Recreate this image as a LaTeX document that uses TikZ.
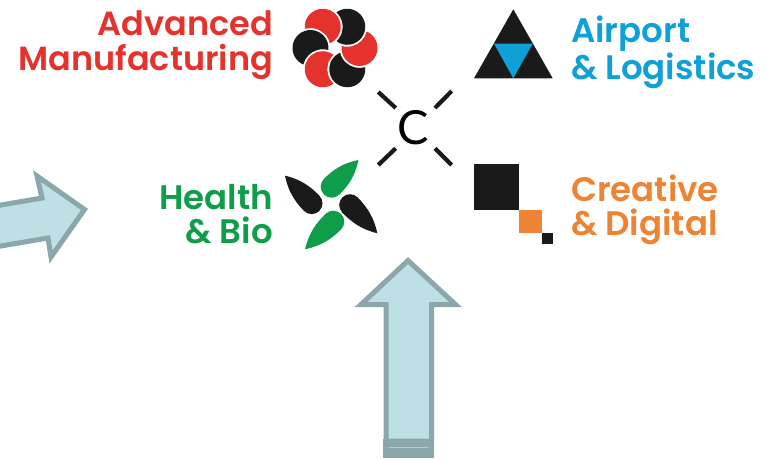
\documentclass[tikz,border=0pt]{standalone}
\usepackage{fontspec}
\setmainfont{Lato}
\newfontfamily\labelfont{Poppins}[UprightFont=* SemiBold]
\definecolor{cred}{HTML}{E5322D}
\definecolor{cblack}{HTML}{1A1A1A}
\definecolor{cgreen}{HTML}{0F9D4A}
\definecolor{corange}{HTML}{EE8433}
\definecolor{cblue}{HTML}{10A0D8}
\definecolor{afill}{HTML}{BCE0E4}
\definecolor{aline}{HTML}{8AA8AB}
\tikzset{
  label text/.style={font=\fontsize{34}{34.5}\selectfont\labelfont,inner sep=0pt,outer sep=0pt},
  bigarrow/.style={fill=afill,draw=aline,line width=5pt,miter limit=10,line join=miter},
  spoke/.style={draw=cblack,line width=4.2pt},
}
\newcommand{\petal}[2]{%
  \begin{scope}[shift={(335,48)},x=1pt,y=1pt,rotate=#1]
    \fill[#2] (6.62,2.04) arc[start angle=173.5,end angle=426.5,radius=18pt]
      arc[start angle=346.3,end angle=253.6,radius=20pt] -- cycle;
  \end{scope}}
\newcommand{\leafshape}[6]{%
  \begin{scope}[shift={(#1,#2)},x=1pt,y=1pt,rotate=#3]
    \fill[#6] (#4,0) .. controls ({.65*#4},{.8*#5}) and ({.35*#4},#5) .. (0,#5)
      arc[start angle=90,end angle=270,radius=#5 pt]
      .. controls ({.35*#4},-#5) and ({.65*#4},{-.8*#5}) .. (#4,0) -- cycle;
  \end{scope}}
\begin{document}
\begin{tikzpicture}[x=1pt,y=-1pt]
\useasboundingbox (0,0) rectangle (769,459);
\fill[white] (0,0) rectangle (769,459);
% arrows
\draw[bigarrow] (-5,206) -- (42,198) -- (37,176) -- (84.5,209.5) -- (51,257) -- (48,238) -- (-5,247);
\draw[bigarrow] (408,260.5) -- (455.5,304.5) -- (431.5,304.5) -- (431.5,441) -- (386,441) -- (386,304.5) -- (361,304.5) -- cycle;
\fill[aline] (383,439) rectangle (434,458);
\draw[afill!70!aline,line width=.6pt] (389,447) -- (428,447);
% flower
\petal{0}{cred}\petal{60}{cblack}\petal{120}{cred}\petal{180}{cblack}\petal{240}{cred}\petal{300}{cblack}
% triangle
\fill[cblack] (513.3,9.3) -- (552.7,78.3) -- (474,78.3) -- cycle;
\fill[cblue] (494,43.7) -- (532.7,43.7) -- (513.3,78.3) -- cycle;
% centre logo
\node[inner sep=0pt,font=\fontsize{47}{47}\selectfont] (centre) at (413,128) {C};
\coordinate (s1a) at (378.3,92); \coordinate (s1b) at (395.7,108);
\coordinate (s2a) at (451.7,91); \coordinate (s2b) at (435,108);
\coordinate (s3a) at (378.3,165); \coordinate (s3b) at (395.7,148.3);
\coordinate (s4a) at (451.7,165); \coordinate (s4b) at (435,148.3);
\draw[spoke] (s1a) -- (s1b);
\draw[spoke] (s2a) -- (s2b);
\draw[spoke] (s3a) -- (s3b);
\draw[spoke] (s4a) -- (s4b);
% leaves
\leafshape{331.7}{186.7}{45}{37.7}{11}{cgreen}
\leafshape{333.3}{221.7}{224.3}{39.5}{11}{cgreen}
\leafshape{311.7}{203.3}{134}{38.4}{10.8}{cblack}
\leafshape{350}{205}{-46}{39.3}{10.8}{cblack}
% squares
\fill[cblack] (474,164.3) rectangle (519.3,210);
\fill[corange] (519.3,210) rectangle (542,233.3);
\fill[cblack] (542,233.3) rectangle (553.3,244.3);
% labels
\node[label text,text=cred,align=right,anchor=east,font=\fontsize{33.5}{34.5}\selectfont\labelfont] (adv) at (273,45) {Advanced\\Manufacturing};
\node[label text,text=cblue,align=left,anchor=west] (air) at (571,52) {Airport\\\& Logistics};
\node[label text,text=cgreen,align=right,anchor=east] (hea) at (273,214) {Health\\\& Bio};
\node[label text,text=corange,align=left,anchor=west] (cre) at (571,210) {Creative\\\& Digital};
\end{tikzpicture}
\end{document}
